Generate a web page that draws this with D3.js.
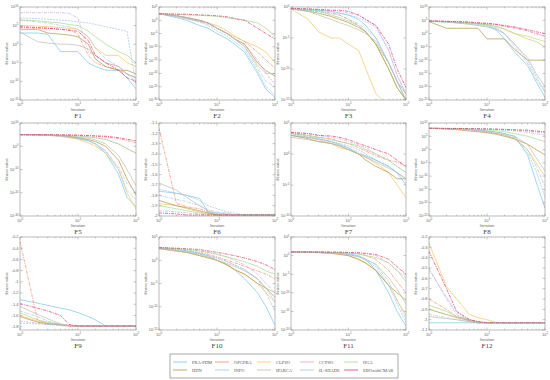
<!DOCTYPE html>
<html>
<head>
<meta charset="utf-8">
<script src="https://cdn.jsdelivr.net/npm/d3@7"></script>
<style>
body { margin: 0; background: #fff; }
text { font-family: "Liberation Sans", Arial, sans-serif; }
text.serif { font-family: "Liberation Serif", "Times New Roman", serif; }
</style>
</head>
<body>
<script>
// algorithms + line colours
var algos = ['PRA-PDM', 'OPGPBA', 'CLPSO', 'CCPSO', 'HGA', 'HDN', 'INFO', 'IPARCA', 'IL-SHADE', 'EBOwithCMAR'];
var colors = ['#74c7ec', '#f2876b', '#f3c562', '#dba2e6', '#a9da8e', '#b39440', '#9fc3ec', '#bdbdb0', '#a8c3d6', '#e2336c'];
var dashes = ['', '3,1,1,1', '', '3,1,1,1', '', '', '2,1', '', '3,1,1,1', '3,1,1,1'];

// sampled iterations (x values of every series)
var iters = [1, 2, 3, 5, 7, 10, 15, 20, 30, 50, 70, 100];

var F1 = [
    [1e3, 1e3, 5e2, 1e-2, 1e-2, 1e-2, 1e-5, 1e-6, 1e-7, 1e-7, 1e-9, 1e-12],
    [3e4, 2e4, 2e4, 1e4, 1e4, 5e2, 1e-3, 1e-5, 1e-6, 1e-7, 1e-8, 1e-9],
    [1e5, 8e4, 5e4, 3e4, 2e4, 1e4, 1e2, 1e-1, 1e-3, 1e-3, 1e-5, 1e-6],
    [3e8, 3e8, 3e8, 3e8, 2e8, 1e7, 1e-2, 1e-3, 1e-5, 1e-6, 1e-8, 1e-9],
    [3e6, 2e6, 1e6, 5e5, 2e5, 1e5, 3e3, 1e2, 1e0, 1e-2, 1e-3, 1e-5],
    [1e4, 1e4, 1e3, 5e2, 3e2, 1e2, 1e0, 1e-4, 1e-6, 1e-7, 1e-7, 1e-8],
    [1e7, 8e6, 5e6, 3e6, 2e6, 1e6, 5e5, 2e5, 5e4, 1e4, 3e3, 1e-11],
    [2e3, 5e0, 2e0, 1e0, 1e0, 5e-1, 5e-2, 1e-3, 1e-5, 1e-6, 1e-8, 1e-9],
    [3e6, 1e6, 5e5, 1e5, 5e4, 1e4, 1e2, 1e-1, 1e-4, 1e-6, 1e-8, 1e-10],
    [5e4, 3e4, 2e4, 1e4, 5e3, 3e3, 1e1, 1e-3, 1e-5, 1e-7, 1e-9, 1e-10]
];
var F2 = [
    [3e2, 1e1, 1e0, 1e-2, 1e-3, 1e-5, 1e-7, 1e-9, 1e-12, 1e-20, 1e-26, 1e-29],
    [3e2, 5e1, 1e1, 1e0, 1e-1, 1e-3, 1e-5, 1e-6, 1e-8, 1e-12, 1e-15, 1e-18],
    [3e2, 3e1, 5e0, 5e-1, 1e-1, 1e-2, 1e-4, 1e-6, 1e-8, 1e-10, 1e-12, 1e-16],
    [3e2, 5e1, 1e1, 1e0, 1e-1, 1e-3, 1e-5, 1e-7, 1e-9, 1e-15, 1e-20, 1e-24],
    [3e2, 2e2, 1e2, 8e1, 5e1, 3e1, 1e1, 3e0, 1e0, 1e-1, 1e-3, 1e-6],
    [3e2, 5e1, 1e1, 1e0, 1e-1, 1e-3, 1e-5, 1e-7, 1e-9, 1e-16, 1e-19, 1e-21],
    [3e2, 2e1, 3e0, 2e-1, 1e-2, 1e-4, 1e-6, 1e-8, 1e-11, 1e-19, 1e-25, 1e-28],
    [3e2, 5e1, 1e1, 5e-1, 1e-1, 1e-3, 1e-5, 1e-7, 1e-10, 1e-17, 1e-20, 1e-20],
    [3e2, 3e1, 5e0, 3e-1, 3e-2, 1e-3, 1e-5, 1e-7, 1e-10, 1e-18, 1e-23, 1e-25],
    [3e2, 2e2, 2e2, 1e2, 8e1, 5e1, 2e1, 5e0, 1e0, 1e-3, 1e-5, 1e-7]
];
var F3 = [
    [5e-1, 4e-1, 3e-1, 2e-1, 1e-1, 5e-2, 1e-2, 1e-3, 1e-5, 1e-9, 1e-12, 1e-15],
    [5e-1, 3e-1, 2e-1, 1e-1, 5e-2, 1e-2, 1e-3, 1e-4, 1e-6, 1e-9, 1e-12, 1e-14],
    [5e-1, 1e-2, 1e-4, 1e-5, 1e-5, 1e-6, 1e-7, 1e-10, 1e-14, 1e-16, 1e-16, 1e-16],
    [6e-1, 5e-1, 4e-1, 3e-1, 2e-1, 1e-1, 5e-2, 1e-2, 1e-3, 1e-7, 1e-11, 1e-14],
    [5e-1, 3e-1, 2e-1, 5e-2, 2e-2, 5e-3, 1e-3, 1e-4, 1e-6, 1e-10, 1e-13, 1e-15],
    [5e-1, 2e-1, 1e-1, 3e-2, 1e-2, 3e-3, 5e-4, 1e-4, 1e-6, 1e-10, 1e-13, 1e-15],
    [5e-1, 4e-1, 3e-1, 2e-1, 1e-1, 5e-2, 2e-2, 5e-3, 5e-4, 1e-7, 1e-11, 1e-14],
    [5e-1, 2e-1, 5e-2, 1e-2, 3e-3, 1e-3, 2e-4, 5e-5, 3e-6, 1e-9, 1e-12, 1e-15],
    [5e-1, 3e-1, 2e-1, 1e-1, 5e-2, 1e-2, 2e-3, 3e-4, 1e-5, 1e-9, 1e-12, 1e-14],
    [6e-1, 5e-1, 4e-1, 3e-1, 3e-1, 2e-1, 5e-2, 1e-2, 1e-3, 1e-6, 1e-10, 1e-13]
];
var F4 = [
    [5e4, 3e4, 2e4, 1e4, 5e3, 2e3, 1e1, 1e-2, 1e-7, 1e-12, 1e-18, 1e-24],
    [5e4, 4e4, 3e4, 2e4, 1e4, 5e3, 2e3, 5e2, 1e2, 1e1, 1e0, 1e-1],
    [5e4, 3e4, 2e4, 1e4, 6e3, 3e3, 5e2, 5e1, 1e0, 1e-1, 1e-2, 1e-3],
    [5e4, 4e4, 3e4, 2e4, 1e4, 6e3, 2e3, 8e2, 2e2, 1e1, 1e0, 1e-1],
    [5e4, 3e4, 2e4, 1e4, 5e3, 2e3, 3e2, 5e1, 1e0, 1e-2, 1e-3, 1e-5],
    [3e4, 1e2, 1e2, 1e2, 1e2, 1e-2, 1e-2, 1e-2, 1e-6, 1e-10, 1e-10, 1e-10],
    [5e4, 2e4, 1e4, 5e3, 2e3, 1e3, 1e2, 1e0, 1e-4, 1e-10, 1e-16, 1e-22],
    [5e4, 2e4, 1e4, 3e3, 1e3, 3e2, 3e1, 1e0, 1e-4, 1e-9, 1e-15, 1e-20],
    [5e4, 3e4, 1e4, 5e3, 2e3, 5e2, 5e1, 1e0, 1e-5, 1e-11, 1e-17, 1e-22],
    [5e4, 4e4, 3e4, 2e4, 1e4, 8e3, 3e3, 1e3, 3e2, 3e1, 5e0, 1e0]
];
var F5 = [
    [1e5, 8e4, 6e4, 3e4, 1e4, 3e3, 3e2, 1e1, 1e-3, 1e-12, 1e-22, 1e-26],
    [1e5, 9e4, 8e4, 7e4, 6e4, 5e4, 3e4, 2e4, 1e4, 2e3, 3e2, 3e1],
    [1e5, 8e4, 5e4, 2e4, 5e3, 1e3, 3e1, 1e0, 1e-3, 1e-10, 1e-20, 1e-27],
    [1e5, 9e4, 8e4, 6e4, 5e4, 3e4, 1e4, 5e3, 1e3, 1e1, 1e-1, 1e-3],
    [1e5, 9e4, 8e4, 6e4, 4e4, 3e4, 1e4, 4e3, 8e2, 1e1, 1e-1, 1e-3],
    [1e5, 8e4, 6e4, 4e4, 2e4, 5e3, 8e2, 1e2, 1e0, 1e-6, 1e-14, 1e-21],
    [1e5, 7e4, 4e4, 2e4, 7e3, 2e3, 2e2, 1e1, 1e-2, 1e-10, 1e-19, 1e-23],
    [1e5, 8e4, 7e4, 5e4, 3e4, 1e4, 3e3, 5e2, 1e1, 1e-4, 1e-10, 1e-17],
    [1e5, 7e4, 5e4, 2e4, 8e3, 2e3, 2e2, 1e1, 1e-2, 1e-9, 1e-16, 1e-20],
    [1e5, 9e4, 9e4, 8e4, 7e4, 6e4, 4e4, 3e4, 2e4, 5e3, 1e3, 2e2]
];
var F6 = [
    [-1.76, -1.78, -1.80, -1.83, -1.96, -1.97, -1.98, -1.99, -1.99, -1.99, -1.99, -1.99],
    [-1.15, -1.88, -1.91, -1.93, -1.96, -1.99, -1.99, -1.99, -1.99, -1.99, -1.99, -1.99],
    [-1.88, -1.90, -1.93, -1.96, -1.98, -1.99, -1.99, -1.99, -1.99, -1.99, -1.99, -1.99],
    [-1.95, -1.96, -1.97, -1.98, -1.99, -1.99, -1.99, -1.99, -1.99, -1.99, -1.99, -1.99],
    [-1.90, -1.93, -1.95, -1.97, -1.98, -1.99, -1.99, -1.99, -1.99, -1.99, -1.99, -1.99],
    [-1.85, -1.90, -1.92, -1.95, -1.97, -1.99, -1.99, -1.99, -1.99, -1.99, -1.99, -1.99],
    [-1.74, -1.78, -1.80, -1.85, -1.90, -1.93, -1.96, -1.97, -1.99, -1.99, -1.99, -1.99],
    [-1.68, -1.75, -1.82, -1.90, -1.95, -1.98, -1.99, -1.99, -1.99, -1.99, -1.99, -1.99],
    [-1.80, -1.84, -1.86, -1.90, -1.94, -1.96, -1.97, -1.99, -1.99, -1.99, -1.99, -1.99],
    [-1.97, -1.98, -1.99, -1.99, -1.99, -1.99, -1.99, -1.99, -1.99, -1.99, -1.99, -1.99]
];
var F7 = [
    [1e3, 5e2, 3e2, 1e2, 3e1, 1e1, 1e0, 5e-1, 1e-1, 1e-2, 1e-3, 1e-5],
    [3e3, 1e3, 5e2, 3e2, 1e2, 5e1, 1e1, 3e0, 5e-1, 1e-1, 5e-2, 1e-2],
    [2e3, 5e2, 2e2, 5e1, 1e1, 5e0, 1e0, 3e-1, 3e-2, 1e-3, 1e-5, 1e-7],
    [3e3, 2e3, 1e3, 5e2, 3e2, 1e2, 3e1, 1e1, 1e0, 1e-1, 1e-2, 1e-3],
    [2e3, 1e3, 5e2, 2e2, 1e2, 5e1, 2e1, 5e0, 1e0, 1e-1, 1e-2, 1e-3],
    [1e3, 3e2, 1e2, 5e1, 2e1, 5e0, 1e0, 1e-1, 1e-2, 1e-3, 1e-4, 1e-4],
    [1e3, 5e2, 2e2, 1e2, 5e1, 2e1, 5e0, 1e0, 1e-1, 1e-2, 1e-3, 1e-4],
    [5e2, 2e2, 1e2, 5e1, 2e1, 5e0, 1e0, 3e-1, 5e-2, 5e-3, 1e-3, 1e-4],
    [2e3, 8e2, 3e2, 1e2, 4e1, 1e1, 2e0, 5e-1, 1e-1, 1e-2, 1e-3, 1e-4],
    [3e3, 2e3, 1e3, 8e2, 5e2, 2e2, 5e1, 2e1, 5e0, 1e0, 1e-1, 1e-2]
];
var F8 = [
    [1e8, 8e7, 6e7, 4e7, 2e7, 1e7, 3e6, 1e6, 1e5, 1e-2, 1e-12, 1e-22],
    [1e8, 9e7, 8e7, 7e7, 6e7, 5e7, 4e7, 3e7, 2e7, 1e7, 5e6, 2e6],
    [1e8, 8e7, 6e7, 3e7, 1e7, 5e6, 1e6, 3e5, 1e4, 1e0, 1e-5, 1e-10],
    [1e8, 9e7, 8e7, 6e7, 5e7, 4e7, 3e7, 2e7, 1e7, 3e6, 1e6, 3e5],
    [1e8, 9e7, 8e7, 6e7, 4e7, 3e7, 1e7, 5e6, 1e6, 1e5, 1e4, 1e3],
    [1e8, 5e7, 3e7, 1e7, 5e6, 2e6, 5e5, 1e5, 1e4, 1e2, 1e0, 1e-2],
    [1e8, 7e7, 5e7, 2e7, 1e7, 5e6, 1e6, 3e5, 2e4, 1e-1, 1e-8, 1e-18],
    [1e8, 8e7, 6e7, 4e7, 2e7, 1e7, 3e6, 1e6, 1e5, 1e2, 1e-3, 1e-8],
    [1e8, 7e7, 5e7, 3e7, 1e7, 5e6, 1e6, 3e5, 3e4, 1e0, 1e-6, 1e-14],
    [1e8, 9e7, 9e7, 8e7, 7e7, 6e7, 5e7, 4e7, 3e7, 2e7, 1e7, 5e6]
];
var F9 = [
    [-1.32, -1.38, -1.42, -1.47, -1.50, -1.55, -1.62, -1.68, -1.79, -1.79, -1.79, -1.79],
    [-0.28, -1.68, -1.74, -1.76, -1.78, -1.79, -1.79, -1.79, -1.79, -1.79, -1.79, -1.79],
    [-1.60, -1.70, -1.74, -1.77, -1.78, -1.79, -1.79, -1.79, -1.79, -1.79, -1.79, -1.79],
    [-1.70, -1.74, -1.76, -1.78, -1.79, -1.79, -1.79, -1.79, -1.79, -1.79, -1.79, -1.79],
    [-1.55, -1.68, -1.72, -1.76, -1.78, -1.79, -1.79, -1.79, -1.79, -1.79, -1.79, -1.79],
    [-1.62, -1.72, -1.75, -1.77, -1.79, -1.79, -1.79, -1.79, -1.79, -1.79, -1.79, -1.79],
    [-1.74, -1.75, -1.76, -1.77, -1.78, -1.79, -1.79, -1.79, -1.79, -1.79, -1.79, -1.79],
    [-1.44, -1.58, -1.66, -1.75, -1.78, -1.79, -1.79, -1.79, -1.79, -1.79, -1.79, -1.79],
    [-1.52, -1.62, -1.70, -1.76, -1.78, -1.79, -1.79, -1.79, -1.79, -1.79, -1.79, -1.79],
    [-1.39, -1.47, -1.52, -1.60, -1.76, -1.79, -1.79, -1.79, -1.79, -1.79, -1.79, -1.79]
];
var F10 = [
    [5e2, 3e2, 1e2, 3e1, 1e1, 1e0, 1e-1, 1e-2, 1e-4, 1e-7, 1e-10, 1e-14],
    [5e2, 2e2, 1e2, 5e1, 2e1, 5e0, 1e0, 3e-1, 5e-2, 5e-3, 1e-3, 1e-4],
    [4e2, 1e2, 5e1, 1e1, 5e0, 1e0, 1e-1, 1e-2, 1e-3, 1e-5, 1e-7, 1e-9],
    [5e2, 3e2, 2e2, 1e2, 5e1, 2e1, 5e0, 1e0, 1e-1, 1e-3, 1e-5, 1e-7],
    [5e2, 3e2, 2e2, 1e2, 5e1, 2e1, 5e0, 2e0, 5e-1, 5e-2, 5e-3, 1e-3],
    [3e2, 1e2, 5e1, 1e1, 3e0, 1e0, 1e-1, 1e-2, 1e-3, 1e-5, 1e-6, 1e-8],
    [5e2, 2e2, 1e2, 3e1, 1e1, 3e0, 5e-1, 1e-1, 1e-2, 1e-4, 1e-6, 1e-9],
    [3e2, 1e2, 5e1, 2e1, 5e0, 1e0, 2e-1, 5e-2, 5e-3, 1e-4, 1e-6, 1e-7],
    [5e2, 2e2, 1e2, 3e1, 1e1, 3e0, 5e-1, 1e-1, 1e-2, 1e-4, 1e-7, 1e-11],
    [5e2, 4e2, 3e2, 2e2, 1e2, 5e1, 2e1, 1e1, 3e0, 5e-1, 1e-1, 1e-2]
];
var F11 = [
    [1e1, 9e0, 8e0, 7e0, 5e0, 3e0, 1e0, 1e-1, 1e-4, 1e-10, 1e-15, 1e-19],
    [1e1, 9e0, 9e0, 8e0, 7e0, 5e0, 3e0, 1e0, 1e-1, 1e-4, 1e-7, 1e-10],
    [1e1, 8e0, 7e0, 5e0, 3e0, 1e0, 1e-1, 1e-2, 1e-4, 1e-8, 1e-12, 1e-16],
    [1e1, 9e0, 9e0, 8e0, 8e0, 7e0, 5e0, 3e0, 1e0, 1e-2, 1e-4, 1e-6],
    [1e1, 9e0, 8e0, 7e0, 6e0, 5e0, 3e0, 1e0, 3e-1, 1e-2, 1e-4, 1e-7],
    [1e1, 8e0, 6e0, 4e0, 2e0, 1e0, 1e-1, 1e-2, 1e-4, 1e-8, 1e-10, 1e-12],
    [1e1, 9e0, 8e0, 6e0, 4e0, 2e0, 5e-1, 5e-2, 1e-3, 1e-8, 1e-13, 1e-18],
    [1e1, 8e0, 7e0, 5e0, 3e0, 2e0, 5e-1, 1e-1, 5e-3, 1e-6, 1e-9, 1e-13],
    [1e1, 9e0, 8e0, 6e0, 4e0, 2e0, 5e-1, 1e-1, 3e-3, 1e-7, 1e-12, 1e-17],
    [1e1, 9e0, 9e0, 9e0, 8e0, 7e0, 6e0, 4e0, 2e0, 1e-1, 1e-3, 1e-5]
];
var F12 = [
    [-1.03, -1.03, -1.03, -1.03, -1.03, -1.03, -1.03, -1.03, -1.03, -1.03, -1.03, -1.03],
    [-0.80, -0.90, -0.97, -1.00, -1.02, -1.03, -1.03, -1.03, -1.03, -1.03, -1.03, -1.03],
    [-0.26, -0.68, -0.80, -0.95, -0.98, -1.00, -1.03, -1.03, -1.03, -1.03, -1.03, -1.03],
    [-0.50, -0.80, -0.95, -1.01, -1.03, -1.03, -1.03, -1.03, -1.03, -1.03, -1.03, -1.03],
    [-0.86, -0.92, -0.97, -1.00, -1.02, -1.03, -1.03, -1.03, -1.03, -1.03, -1.03, -1.03],
    [-0.90, -0.95, -0.98, -1.01, -1.03, -1.03, -1.03, -1.03, -1.03, -1.03, -1.03, -1.03],
    [-0.52, -0.78, -0.93, -1.00, -1.02, -1.03, -1.03, -1.03, -1.03, -1.03, -1.03, -1.03],
    [-0.97, -0.99, -1.00, -1.02, -1.03, -1.03, -1.03, -1.03, -1.03, -1.03, -1.03, -1.03],
    [-0.95, -0.98, -1.00, -1.02, -1.03, -1.03, -1.03, -1.03, -1.03, -1.03, -1.03, -1.03],
    [-0.34, -0.70, -0.92, -1.00, -1.02, -1.03, -1.03, -1.03, -1.03, -1.03, -1.03, -1.03]
];

// y axis ticks: exponents for log panels, plain values for linear ones
var F1_ticks = [10, 5, 0, -5, -10, -15];
var F2_ticks = [5, 0, -5, -10, -15, -20, -25, -30];
var F3_ticks = [0, -5, -10, -15];
var F4_ticks = [10, 5, 0, -5, -10, -15, -20, -25];
var F5_ticks = [10, 0, -10, -20, -30];
var F6_ticks = [-1.1, -1.2, -1.3, -1.4, -1.5, -1.6, -1.7, -1.8, -1.9, -2];
var F7_ticks = [5, 0, -5, -10];
var F8_ticks = [10, 5, 0, -5, -10, -15, -20, -25];
var F9_ticks = [-0.2, -0.4, -0.6, -0.8, -1, -1.2, -1.4, -1.6, -1.8];
var F10_ticks = [5, 0, -5, -10, -15];
var F11_ticks = [5, 0, -5, -10, -15, -20];
var F12_ticks = [-0.2, -0.3, -0.4, -0.5, -0.6, -0.7, -0.8, -0.9, -1, -1.1];

var panels = [
    {name: 'F1',  log: true,  ext: [-15, 10],    ticks: F1_ticks,  data: F1},
    {name: 'F2',  log: true,  ext: [-30, 5],     ticks: F2_ticks,  data: F2},
    {name: 'F3',  log: true,  ext: [-15, 0],     ticks: F3_ticks,  data: F3},
    {name: 'F4',  log: true,  ext: [-25, 10],    ticks: F4_ticks,  data: F4},
    {name: 'F5',  log: true,  ext: [-30, 10],    ticks: F5_ticks,  data: F5},
    {name: 'F6',  log: false, ext: [-2, -1.1],   ticks: F6_ticks,  data: F6},
    {name: 'F7',  log: true,  ext: [-10, 5],     ticks: F7_ticks,  data: F7},
    {name: 'F8',  log: true,  ext: [-25, 10],    ticks: F8_ticks,  data: F8},
    {name: 'F9',  log: false, ext: [-1.86, -0.2], ticks: F9_ticks, data: F9},
    {name: 'F10', log: true,  ext: [-15, 5],     ticks: F10_ticks, data: F10},
    {name: 'F11', log: true,  ext: [-20, 5],     ticks: F11_ticks, data: F11},
    {name: 'F12', log: false, ext: [-1.1, -0.2], ticks: F12_ticks, data: F12}
];

// layout
var width = 550, height = 380;
var colX = [[20, 136], [159, 275], [291, 406], [429, 545]];
var rowY = [[7, 100], [123, 216], [237, 330]];
var axisCol = '#8c8c8c', textCol = '#666';

var svg = d3.select('body').append('svg')
    .attr('width', width)
    .attr('height', height);

var line = d3.line();

panels.forEach(function(p, i) {
    var cx = colX[i % 4], ry = rowY[Math.floor(i / 4)];
    var x = d3.scaleLog().domain([1, 100]).range(cx);
    var y = p.log
        ? d3.scaleLog().domain([Math.pow(10, p.ext[0]), Math.pow(10, p.ext[1])]).range([ry[1], ry[0]])
        : d3.scaleLinear().domain(p.ext).range([ry[1], ry[0]]);

    var g = svg.append('g');

    g.append('clipPath').attr('id', 'clip' + i)
        .append('rect')
        .attr('x', cx[0]).attr('y', ry[0])
        .attr('width', cx[1] - cx[0]).attr('height', ry[1] - ry[0]);

    // curves
    var lines = g.append('g').attr('clip-path', 'url(#clip' + i + ')');
    p.data.forEach(function(vals, k) {
        var pts = vals.map(function(v, j) { return [x(iters[j]), y(v)]; });
        lines.append('path')
            .attr('d', line(pts))
            .attr('fill', 'none')
            .attr('stroke', colors[k])
            .attr('stroke-width', 0.7)
            .attr('stroke-dasharray', dashes[k] || null);
    });

    // box
    g.append('rect')
        .attr('x', cx[0]).attr('y', ry[0])
        .attr('width', cx[1] - cx[0]).attr('height', ry[1] - ry[0])
        .attr('fill', 'none').attr('stroke', axisCol).attr('stroke-width', 0.6);

    // x ticks (major + minor, top & bottom)
    var minor = [];
    [1, 10].forEach(function(b) { for (var m = 2; m <= 9; m++) minor.push(b * m); });
    [1, 10, 100].concat(minor).forEach(function(t) {
        var len = (t === 1 || t === 10 || t === 100) ? 2.5 : 1.3;
        g.append('line').attr('x1', x(t)).attr('x2', x(t)).attr('y1', ry[1]).attr('y2', ry[1] - len)
            .attr('stroke', axisCol).attr('stroke-width', 0.5);
        g.append('line').attr('x1', x(t)).attr('x2', x(t)).attr('y1', ry[0]).attr('y2', ry[0] + len)
            .attr('stroke', axisCol).attr('stroke-width', 0.5);
    });
    [0, 1, 2].forEach(function(e) {
        var t = g.append('text')
            .attr('x', x(Math.pow(10, e)))
            .attr('y', ry[1] + 6)
            .attr('text-anchor', 'middle')
            .attr('font-size', 4)
            .attr('fill', textCol);
        t.append('tspan').text('10');
        t.append('tspan').attr('dy', -1.6).attr('font-size', 3).text(e);
    });

    // y ticks
    p.ticks.forEach(function(tv) {
        var yy = p.log ? y(Math.pow(10, tv)) : y(tv);
        g.append('line').attr('x1', cx[0]).attr('x2', cx[0] + 2.5).attr('y1', yy).attr('y2', yy)
            .attr('stroke', axisCol).attr('stroke-width', 0.5);
        g.append('line').attr('x1', cx[1]).attr('x2', cx[1] - 2.5).attr('y1', yy).attr('y2', yy)
            .attr('stroke', axisCol).attr('stroke-width', 0.5);
        var t = g.append('text')
            .attr('x', cx[0] - 1.5)
            .attr('y', yy + 1.4)
            .attr('text-anchor', 'end')
            .attr('font-size', 4)
            .attr('fill', textCol);
        if (p.log) {
            t.append('tspan').text('10');
            t.append('tspan').attr('dy', -1.6).attr('font-size', 3).text(tv);
        } else {
            t.text(tv);
        }
    });

    // labels
    g.append('text')
        .attr('x', (cx[0] + cx[1]) / 2)
        .attr('y', ry[1] + 10.5)
        .attr('text-anchor', 'middle')
        .attr('font-size', 4)
        .attr('fill', textCol)
        .text('Iteration');
    g.append('text')
        .attr('transform', 'translate(' + (cx[0] - 12) + ',' + ((ry[0] + ry[1]) / 2) + ') rotate(-90)')
        .attr('text-anchor', 'middle')
        .attr('font-size', 4)
        .attr('fill', textCol)
        .text('fitness value');
    g.append('text')
        .attr('class', 'serif')
        .attr('x', (cx[0] + cx[1]) / 2)
        .attr('y', ry[1] + 18)
        .attr('text-anchor', 'middle')
        .attr('font-size', 7)
        .attr('fill', '#444')
        .text(p.name);
});

// legend
var leg = svg.append('g');
leg.append('rect')
    .attr('x', 170).attr('y', 354).attr('width', 228).attr('height', 24)
    .attr('fill', '#fff').attr('stroke', '#555').attr('stroke-width', 0.5);
var legX = [173, 215, 257, 300, 344];
var legY = [362, 370];
algos.forEach(function(a, k) {
    var lx = legX[k % 5], ly = legY[Math.floor(k / 5)];
    leg.append('line')
        .attr('x1', lx).attr('x2', lx + 14).attr('y1', ly).attr('y2', ly)
        .attr('stroke', colors[k]).attr('stroke-width', 0.8);
    leg.append('text')
        .attr('class', 'serif')
        .attr('x', lx + 19).attr('y', ly + 1.5)
        .attr('font-size', 4.5)
        .attr('fill', '#555')
        .text(a);
});
</script>
</body>
</html>
